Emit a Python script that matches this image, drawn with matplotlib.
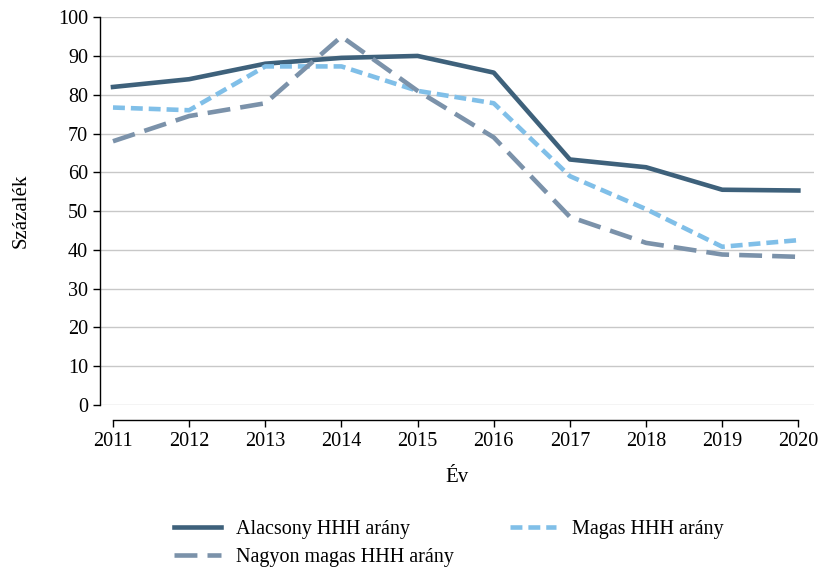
import matplotlib
matplotlib.use('Agg')
import matplotlib.pyplot as plt

plt.rcParams['font.family'] = ['Liberation Serif', 'DejaVu Serif']

years = [2011, 2012, 2013, 2014, 2015, 2016, 2017, 2018, 2019, 2020]
alacsony = [82.0, 84.0, 88.0, 89.5, 90.0, 85.7, 63.3, 61.3, 55.5, 55.3]
magas = [76.7, 76.0, 87.3, 87.3, 81.0, 77.8, 59.0, 50.5, 40.8, 42.5]
nagyon_magas = [68.0, 74.5, 77.8, 95.0, 81.0, 69.0, 48.5, 41.8, 38.8, 38.2]
labels = ['Alacsony HHH arány', 'Magas HHH arány', 'Nagyon magas HHH arány']

fig = plt.figure(figsize=(8.22, 5.72), dpi=100)
ax = fig.add_axes([0.1217, 0.292, 0.869, 0.678])

l1, = ax.plot(years, alacsony, color='#3e617b', lw=3.3, label=labels[0], clip_on=False)
l2, = ax.plot(years, magas, color='#80bfe8', lw=3.3, dashes=(2.6, 1.3), label=labels[1], clip_on=False)
l3, = ax.plot(years, nagyon_magas, color='#7b92aa', lw=3.3, dashes=(5, 2.2), label=labels[2], clip_on=False)

ax.set_ylim(0, 100)
ax.set_xlim(2010.83, 2020.21)
ax.set_yticks(range(0, 101, 10))
ax.set_xticks(years)
ax.yaxis.grid(True, color='#c8c8c8', lw=1)
ax.set_axisbelow(True)

for s in ['top', 'right']:
    ax.spines[s].set_visible(False)
ax.spines['bottom'].set_position(('outward', 11))
ax.spines['bottom'].set_bounds(2011, 2020)
ax.spines['left'].set_linewidth(1)
ax.spines['bottom'].set_linewidth(1)
ax.tick_params(labelsize=14.5, length=5, width=1)

ax.set_xlabel('Év', fontsize=15, labelpad=12)
ax.set_ylabel('Százalék', fontsize=15, labelpad=20)

fig.legend(handles=[l1, l3, l2], labels=[labels[0], labels[2], labels[1]],
           ncol=2, loc='center', bbox_to_anchor=(0.546, 0.05), frameon=False,
           fontsize=14.5, handlelength=2.3, handletextpad=0.75,
           columnspacing=2.8, labelspacing=0.45)

plt.savefig('out.png', dpi=100)
